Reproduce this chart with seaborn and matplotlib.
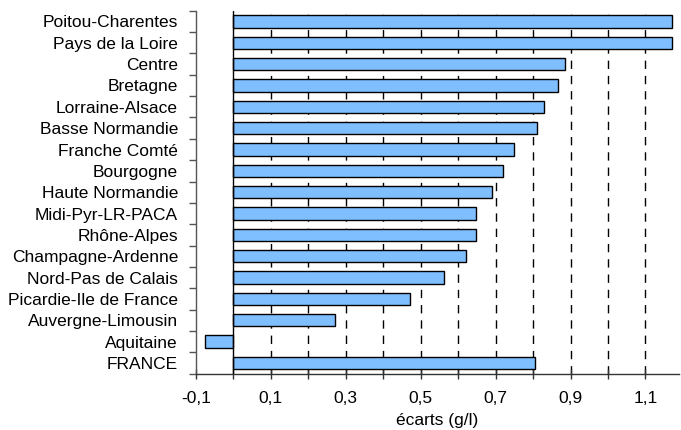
import numpy as np
import pandas as pd
import matplotlib
matplotlib.use("Agg")
import matplotlib.pyplot as plt
import seaborn as sns

# données
regions = ["Poitou-Charentes", "Pays de la Loire", "Centre", "Bretagne",
           "Lorraine-Alsace", "Basse Normandie", "Franche Comté", "Bourgogne",
           "Haute Normandie", "Midi-Pyr-LR-PACA", "Rhône-Alpes",
           "Champagne-Ardenne", "Nord-Pas de Calais", "Picardie-Ile de France",
           "Auvergne-Limousin", "Aquitaine", "FRANCE"]
ecarts = [1.172, 1.171, 0.884, 0.866, 0.830, 0.810, 0.750, 0.721,
          0.691, 0.649, 0.649, 0.622, 0.563, 0.473, 0.272, -0.076, 0.804]
tick_vals = [-0.1, 0.1, 0.3, 0.5, 0.7, 0.9, 1.1]
tick_labels = ["-0,1", "0,1", "0,3", "0,5", "0,7", "0,9", "1,1"]
grid_vals = [0.1, 0.2, 0.3, 0.4, 0.5, 0.6, 0.7, 0.8, 0.9, 1.0, 1.1]

df = pd.DataFrame({"region": regions, "ecart": ecarts})

sns.set_style("white")
plt.rcParams["font.family"] = ["Liberation Sans", "DejaVu Sans"]
plt.rcParams["text.color"] = "black"
plt.rcParams["xtick.labelcolor"] = "black"
plt.rcParams["ytick.labelcolor"] = "black"
plt.rcParams["axes.labelcolor"] = "black"

fig = plt.figure(figsize=(6.81, 4.30), dpi=100)
ax = fig.add_axes([0.2874, 0.131, 0.71, 0.844])

# grille verticale en tirets
for g in grid_vals:
    ax.axvline(g, color="black", linestyle=(0, (6, 5)), linewidth=1, zorder=0)
ax.axvline(0, color="black", linewidth=1, zorder=3)

sns.barplot(data=df, x="ecart", y="region", orient="h", color="#80bfff",
            saturation=1, edgecolor="black", linewidth=1, width=0.58, ax=ax, zorder=2)

ax.set_xlim(-0.1, 1.19)
ax.set_ylim(len(regions) - 0.5, -0.5)

ax.set_xticks(tick_vals)
ax.set_xticklabels(tick_labels, fontsize=12.5)
ax.set_xticks(np.round(np.arange(-0.1, 1.15, 0.1), 2), minor=True)
ax.tick_params(axis="x", which="both", direction="inout", length=7, width=1,
               color="#333333", bottom=True, pad=9)

ax.set_yticks(range(len(regions)))
ax.set_yticklabels(regions, fontsize=12.5)
ax.set_yticks(np.arange(-0.5, len(regions), 1), minor=True)
ax.tick_params(axis="y", which="major", length=0, pad=12.7)
ax.tick_params(axis="y", which="minor", direction="out", length=5, width=1,
               color="#555555", left=True)

ax.set_xlabel("écarts (g/l)", fontsize=12.5, labelpad=5)
ax.set_ylabel("")

for s in ["top", "right"]:
    ax.spines[s].set_visible(False)
ax.spines["left"].set_color("#555555")
ax.spines["bottom"].set_color("#333333")
for s in ["left", "bottom"]:
    ax.spines[s].set_linewidth(1)

fig.savefig("out.png", dpi=100)
